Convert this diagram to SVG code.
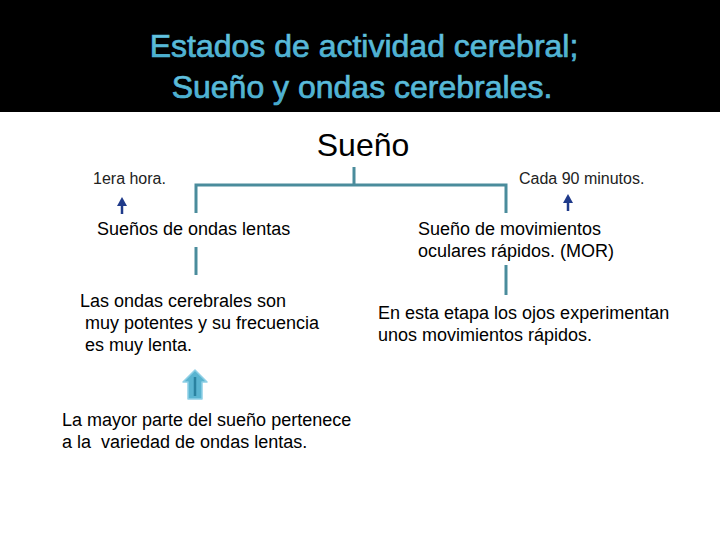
<svg xmlns="http://www.w3.org/2000/svg" width="720" height="540" viewBox="0 0 720 540">
<defs>
<linearGradient id="tg" x1="0" y1="0" x2="0" y2="1">
<stop offset="0" stop-color="#6fcbe6"/>
<stop offset="1" stop-color="#3fa6c8"/>
</linearGradient>
<marker id="ah" markerWidth="9" markerHeight="10" refX="3" refY="5" orient="auto" markerUnits="userSpaceOnUse">
<path d="M0,0 L9,5 L0,10 Z" fill="#1f3a8a"/>
</marker>
</defs>
<style>
.t{font-family:"Liberation Sans",Arial,sans-serif;fill:#000}
.s{font-size:18px}
.x{font-size:16px;fill:#222}
.title{font-family:"Liberation Sans",Arial,sans-serif;font-size:32px;fill:url(#tg);stroke:#55b8d8;stroke-width:0.7;text-anchor:middle}
.c{stroke:#4a8c9c;stroke-width:3;fill:none}
.a{stroke:#1f3a8a;stroke-width:2.5;fill:none}
</style>
<rect x="0" y="0" width="720" height="540" fill="#fff"/>
<rect x="0" y="0" width="720" height="112" fill="#000"/>
<g id="title">
<text class="title" x="364" y="57">Estados de actividad cerebral;</text>
<text class="title" x="362" y="98">Sueño y ondas cerebrales.</text>
</g>
<g id="connectors">
<path class="c" d="M354,167 V185 M196,213 V185 H506 V213"/>
<path class="c" d="M196,247 V275"/>
<path class="c" d="M506,265 V295"/>
<path class="a" d="M122,214 V203" marker-end="url(#ah)"/>
<path class="a" d="M568,211 V200" marker-end="url(#ah)"/>
</g>
<g id="sueno"><text class="t" x="363" y="156" font-size="32" text-anchor="middle">Sueño</text></g>
<g id="hora"><text class="t x" x="93" y="184">1era hora.</text></g>
<g id="cada"><text class="t x" x="519" y="184">Cada 90 minutos.</text></g>
<g id="lentas"><text class="t s" x="97" y="235">Sueños de ondas lentas</text></g>
<g id="mor"><text class="t s" x="418" y="235">Sueño de movimientos</text><text class="t s" x="418" y="257">oculares rápidos. (MOR)</text></g>
<g id="ondas"><text class="t s" x="80" y="307">Las ondas cerebrales son</text><text class="t s" x="85" y="329">muy potentes y su frecuencia</text><text class="t s" x="85" y="351">es muy lenta.</text></g>
<g id="ojos"><text class="t s" x="378" y="319">En esta etapa los ojos experimentan</text><text class="t s" x="378" y="341">unos movimientos rápidos.</text></g>
<g id="blockarrow">
<path d="M195,370 L207,382 L202,382 L202,399 L188,399 L188,382 L183,382 Z" fill="#5ab4d0" stroke="#8fd0e6" stroke-width="1.5" stroke-linejoin="round"/>
<path d="M195,377 V396" stroke="#2a82a0" stroke-width="2.5"/>
</g>
<g id="mayor"><text class="t s" x="62" y="426">La mayor parte del sueño pertenece</text><text class="t s" x="62" y="448" xml:space="preserve">a la  variedad de ondas lentas.</text></g>
</svg>
